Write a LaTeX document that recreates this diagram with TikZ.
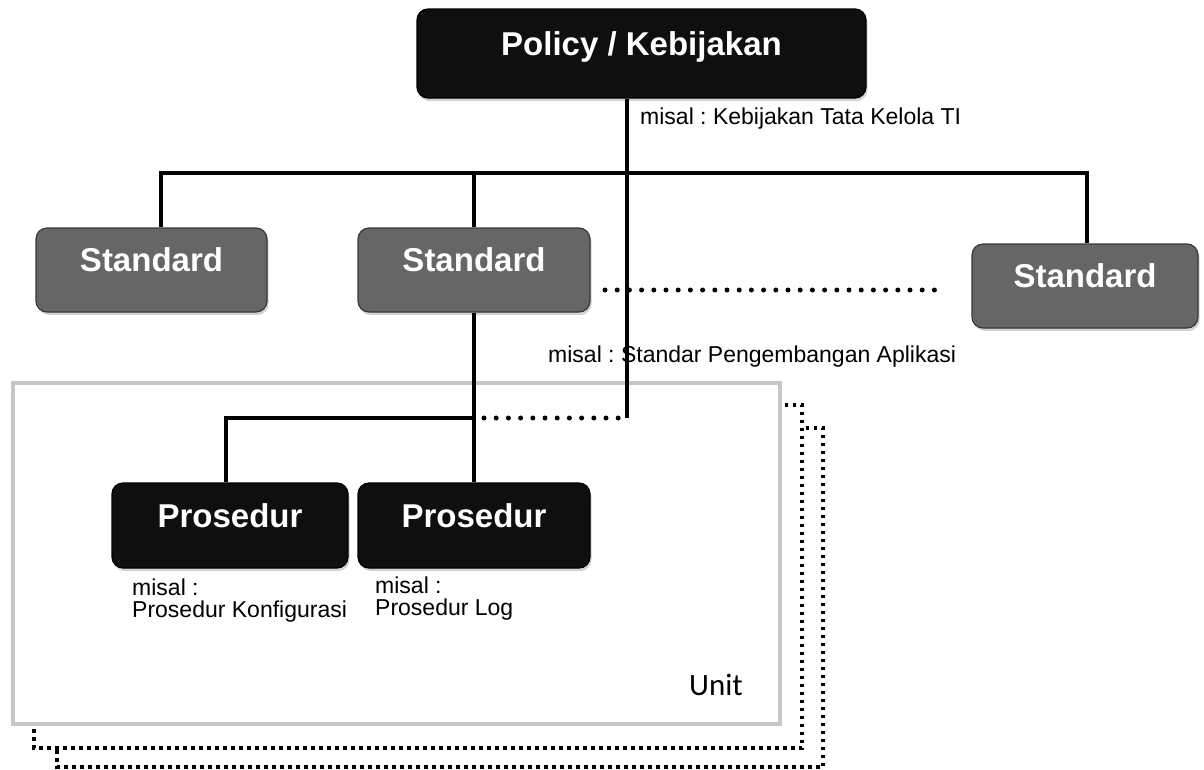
\documentclass[tikz,border=0pt]{standalone}
\usepackage{fontspec}
\setmainfont{Liberation Sans}
\newfontfamily\unitfont{Carlito}
\usetikzlibrary{shadows}
\frenchspacing
\begin{document}
\begin{tikzpicture}[x=1pt,y=-1pt,
  boxbase/.style={rounded corners=11pt, text=white,
    font=\fontsize{33}{36}\selectfont\bfseries,
    text height=24pt, text depth=21pt, inner sep=0pt, line width=1.2pt,
    drop shadow={shadow xshift=1.5pt, shadow yshift=-3pt, opacity=0.35}},
  darkbox/.style={boxbase, fill=black!94, draw=black},
  graybox/.style={boxbase, fill=black!60, draw=black!78},
  conn/.style={line width=4pt},
  rounddots/.style={line width=5pt, line cap=round, dash pattern=on 0pt off 12.2pt},
  squaredots/.style={line width=3.5pt, dash pattern=on 3.5pt off 4.5pt},
  note/.style={font=\fontsize{23}{22}\selectfont, anchor=base west, inner sep=0pt, align=left},
]
\useasboundingbox (0,0) rectangle (1204,769);

% unit frame
\node[draw=black!22, line width=4.5pt, minimum width=767pt, minimum height=341pt, inner sep=0pt] (unit) at (396.5,553.5) {};
\node[font=\unitfont\fontsize{31}{33}\selectfont, anchor=base east, inner sep=0pt] (unitlbl) at (743,695) {Unit};

% stacked dotted frames behind the unit
\draw[squaredots] (34,729) -- (34,748) -- (802,748) -- (802,405) -- (783,405);
\draw[squaredots] (57,750) -- (57,767) -- (823,767) -- (823,428) -- (803,428);

% boxes
\node[darkbox, minimum width=449pt, minimum height=89pt] (policy) at (641.5,53.5) {Policy / Kebijakan};
\node[graybox, minimum width=231pt, minimum height=84pt] (s1) at (151.5,270) {Standard};
\node[graybox, minimum width=232pt, minimum height=84pt] (s2) at (474,270) {Standard};
\node[graybox, minimum width=226pt, minimum height=84pt] (s3) at (1085,286) {Standard};
\node[darkbox, minimum width=236pt, minimum height=85pt] (p1) at (230,525.5) {Prosedur};
\node[darkbox, minimum width=232pt, minimum height=85pt] (p2) at (474,525.5) {Prosedur};

% labels
\node[note] (m1) at (640,124) {misal : Kebijakan Tata Kelola TI};
\node[note] (m2) at (548,362) {misal : Standar Pengembangan Aplikasi};
\node[note] (m3) at (132,617) {misal :\\Prosedur Konfigurasi};
\node[note] (m4) at (375,615) {misal :\\Prosedur Log};

% junction points
\coordinate (top) at (627,173);
\coordinate (d1) at (161,173);
\coordinate (d3) at (1087,173);
\coordinate (jl) at (627,418);
\coordinate (mid) at (474,418);
\coordinate (pj) at (226,418);
\coordinate (sd1) at (605,290);
\coordinate (sd2) at (945,290);
\coordinate (dl1) at (484,418);
\coordinate (dl2) at (620,418);

% connectors
\draw[conn] (policy.south -| top) -- (jl);
\draw[conn] (s1.north -| d1) -- (d1) -- (d3) -- (s3.north -| d3);
\draw[conn] (s2.north) -- (s2.north |- d1);
\draw[conn] (s2.south) -- (p2.north);
\draw[conn] (p1.north -| pj) -- (pj) -- (mid);
\draw[rounddots] (sd1) -- (sd2);
\draw[rounddots] (dl1) -- (dl2);
\end{tikzpicture}
\end{document}
